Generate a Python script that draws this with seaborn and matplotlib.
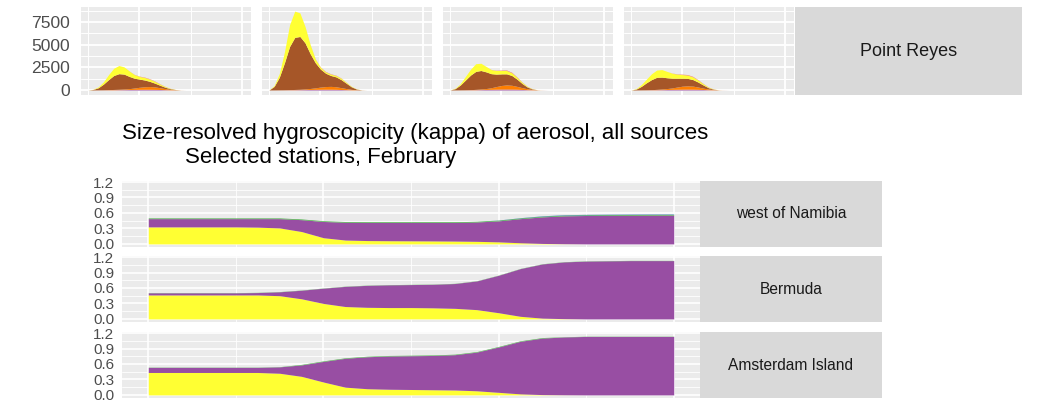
import matplotlib
matplotlib.use("Agg")
import matplotlib.pyplot as plt
from matplotlib.ticker import FixedLocator
import seaborn as sns

# ---------------- Point Reyes size distributions (four columns) ----------------
# cumulative layer tops (number concentration) on a log-diameter axis
t_top = [-0.5, -0.45, -0.4, -0.35, -0.3, -0.25, -0.2, -0.15, -0.1, -0.05, 0.0,
         0.05, 0.1, 0.15, 0.2, 0.25, 0.3, 0.35, 0.4, 0.45, 0.5]

pr_purple = [
    [0, 0, 5, 10, 15, 25, 35, 45, 55, 65, 75, 80, 80, 70, 55, 35, 18, 6, 2, 0, 0],
    [0, 0, 5, 10, 20, 30, 40, 50, 60, 70, 80, 85, 85, 75, 55, 35, 18, 6, 2, 0, 0],
    [0, 0, 5, 10, 20, 30, 45, 60, 75, 90, 100, 105, 100, 85, 60, 35, 18, 6, 2, 0, 0],
    [0, 0, 5, 10, 20, 30, 40, 55, 70, 80, 90, 95, 90, 75, 55, 30, 15, 5, 1, 0, 0],
]
pr_orange = [
    [0, 0, 10, 20, 40, 60, 80, 110, 150, 220, 300, 360, 380, 340, 250, 150, 70, 25, 5, 0, 0],
    [0, 0, 10, 20, 40, 60, 80, 120, 170, 240, 320, 380, 400, 360, 260, 160, 70, 25, 5, 0, 0],
    [0, 0, 10, 20, 40, 70, 110, 160, 250, 380, 500, 560, 520, 400, 260, 140, 60, 20, 4, 0, 0],
    [0, 0, 10, 20, 40, 70, 110, 160, 230, 330, 420, 460, 430, 330, 210, 110, 45, 15, 3, 0, 0],
]
pr_brown = [
    [0, 60, 250, 650, 1150, 1600, 1800, 1750, 1500, 1300, 1200, 1100, 950, 750, 520, 300, 140, 50, 8, 0, 0],
    [0, 400, 1400, 3000, 4800, 5800, 5900, 5200, 4000, 3000, 2300, 1850, 1600, 1450, 1150, 750, 350, 100, 15, 0, 0],
    [0, 150, 550, 1100, 1650, 2050, 2150, 2000, 1800, 1750, 1780, 1780, 1600, 1200, 720, 330, 110, 25, 0, 0, 0],
    [0, 100, 400, 800, 1150, 1400, 1420, 1350, 1300, 1300, 1300, 1280, 1150, 880, 560, 260, 90, 20, 0, 0, 0],
]
pr_yellow = [
    [0, 80, 350, 900, 1700, 2400, 2700, 2550, 2100, 1700, 1500, 1380, 1200, 950, 650, 380, 180, 60, 10, 0, 0],
    [0, 500, 1800, 4200, 7200, 8700, 8500, 7000, 5000, 3400, 2500, 2000, 1750, 1600, 1300, 850, 400, 120, 20, 0, 0],
    [0, 200, 700, 1500, 2300, 2900, 2950, 2600, 2250, 2150, 2150, 2150, 1900, 1400, 850, 400, 130, 30, 0, 0, 0],
    [0, 150, 600, 1200, 1800, 2200, 2250, 2050, 1850, 1750, 1700, 1650, 1450, 1100, 700, 330, 110, 25, 0, 0, 0],
]
pr_red = [
    [0, 0, 0, 0, 0, 0, 0, 0, 10, 20, 30, 40, 40, 35, 25, 15, 5, 0, 0, 0, 0],
    [0, 0, 0, 0, 0, 0, 0, 0, 10, 20, 30, 40, 40, 35, 25, 15, 5, 0, 0, 0, 0],
    [0, 0, 0, 0, 0, 0, 0, 0, 15, 30, 45, 55, 55, 45, 30, 15, 5, 0, 0, 0, 0],
    [0, 0, 0, 0, 0, 0, 0, 0, 15, 30, 45, 55, 55, 45, 30, 15, 5, 0, 0, 0, 0],
]
top_yticks = [0, 2500, 5000, 7500]
top_label = "Point Reyes"

# ---------------- kappa by source, February ----------------
x_kappa = [0, 0.125, 0.25, 0.375, 0.5, 0.625, 0.75, 0.875, 1.0, 1.125, 1.25, 1.375, 1.5,
           1.625, 1.75, 1.875, 2.0, 2.125, 2.25, 2.375, 2.5, 2.625, 2.75, 2.875, 3.0]
stations = ["west of Namibia", "Bermuda", "Amsterdam Island"]

namibia_yellow = [.33, .33, .33, .33, .33, .325, .31, .24, .12, .075, .065, .062, .06,
                  .058, .055, .05, .04, .022, .009, .003, 0, 0, 0, 0, 0]
namibia_purple = [.16, .16, .16, .16, .16, .165, .18, .23, .315, .345, .35, .353, .355,
                  .357, .36, .375, .407, .468, .515, .541, .551, .554, .556, .558, .559]
namibia_green = [.014] * 25
namibia_blue = [0] * 16 + [.003, .005, .007, .008, .008, .008, .008, .008, .008]

bermuda_yellow = [.465, .465, .465, .465, .465, .465, .45, .39, .30, .24, .225, .22, .22,
                  .215, .205, .18, .12, .05, .015, .005, 0, 0, 0, 0, 0]
bermuda_purple = [.041, .041, .041, .041, .041, .046, .076, .166, .296, .391, .426, .441, .446,
                  .456, .481, .556, .726, .926, 1.051, 1.101, 1.121, 1.126, 1.131, 1.131, 1.131]
bermuda_green = [.004] * 25
bermuda_blue = [0] * 25

amsterdam_yellow = [.435, .435, .435, .435, .435, .435, .42, .36, .25, .15, .12, .11, .105,
                    .10, .095, .08, .05, .02, .006, .002, 0, 0, 0, 0, 0]
amsterdam_purple = [.099, .099, .099, .099, .099, .099, .124, .222, .4, .56, .62, .645, .655,
                    .665, .685, .75, .88, 1.02, 1.096, 1.122, 1.134, 1.134, 1.134, 1.134, 1.134]
amsterdam_green = [.004] * 7 + [.01] * 12 + [.004] * 6
amsterdam_blue = [0] * 25

kappa_layers = {
    "west of Namibia": (namibia_yellow, namibia_purple, namibia_green, namibia_blue),
    "Bermuda": (bermuda_yellow, bermuda_purple, bermuda_green, bermuda_blue),
    "Amsterdam Island": (amsterdam_yellow, amsterdam_purple, amsterdam_green, amsterdam_blue),
}
kappa_yticks = [0.0, 0.3, 0.6, 0.9, 1.2]
title_line1 = "Size-resolved hygroscopicity (kappa) of aerosol, all sources"
title_line2 = "Selected stations, February"

# Set1 colours
RED, BLUE, GREEN, PURPLE = "#E41A1C", "#377EB8", "#4DAF4A", "#984EA3"
ORANGE, YELLOW, BROWN = "#FF7F00", "#FFFF33", "#A65628"

sns.set_theme(style="darkgrid")
plt.rcParams["font.family"] = ["Liberation Sans", "DejaVu Sans"]

W, H = 1037, 407
fig = plt.figure(figsize=(W / 100, H / 100), dpi=100)
fig.patch.set_facecolor("white")


def box(x0, y0, x1, y1):
    return fig.add_axes([x0 / W, 1 - y1 / H, (x1 - x0) / W, (y1 - y0) / H])


def gg_panel(ax, xmaj, xmin, ymaj, ymin, lw_major, lw_minor):
    ax.set_facecolor("#EBEBEB")
    for s in ax.spines.values():
        s.set_visible(False)
    ax.xaxis.set_major_locator(FixedLocator(xmaj))
    ax.xaxis.set_minor_locator(FixedLocator(xmin))
    ax.yaxis.set_major_locator(FixedLocator(ymaj))
    ax.yaxis.set_minor_locator(FixedLocator(ymin))
    ax.grid(True, which="major", color="white", linewidth=lw_major)
    ax.grid(True, which="minor", color="white", linewidth=lw_minor)
    ax.set_axisbelow(True)
    ax.tick_params(axis="x", which="both", length=0, labelbottom=False)
    ax.tick_params(axis="y", which="minor", length=0)


def strip(x0, y0, x1, y1, label, size):
    sa = box(x0, y0, x1, y1)
    sa.set_facecolor("#D9D9D9")
    for s in sa.spines.values():
        s.set_visible(False)
    sa.set_xticks([])
    sa.set_yticks([])
    sa.grid(False)
    sa.text(0.5, 0.5, label, ha="center", va="center", fontsize=size,
            color="#1A1A1A", transform=sa.transAxes)


# ---- top row: Point Reyes number distributions ----
top_lefts = [81, 262, 443, 624]
for i, x0 in enumerate(top_lefts):
    ax = box(x0, 7, x0 + 170, 95)
    gg_panel(ax, [0, 1], [-0.5, 0.5], top_yticks, [1250, 3750, 6250, 8750], 1.3, 0.7)
    ax.set_xlim(-0.568, 1.083)
    ax.set_ylim(-551, 9151)
    base = [0] * len(t_top)
    red_top = [y + r for y, r in zip(pr_yellow[i], pr_red[i])]
    for top, col in [(pr_purple[i], PURPLE), (pr_orange[i], ORANGE),
                     (pr_brown[i], BROWN), (pr_yellow[i], YELLOW), (red_top, "#F07A6A")]:
        ax.fill_between(t_top, base, top, color=col, linewidth=0)
        base = top
    if i == 0:
        ax.set_yticklabels([str(v) for v in top_yticks])
        ax.tick_params(axis="y", which="major", length=4, width=1.1, color="#333333",
                       labelcolor="#4D4D4D", labelsize=12.6, pad=4)
    else:
        ax.tick_params(axis="y", which="major", length=0, labelleft=False)
strip(795, 7, 1022, 95, top_label, 13)

# ---- title ----
fig.text(122 / W, 1 - 134 / H, title_line1, ha="left", va="center", fontsize=16, color="black")
fig.text(185 / W, 1 - 157 / H, title_line2, ha="left", va="center", fontsize=16, color="black")

# ---- facets: kappa contribution by source ----
facet_tops = [181, 256, 332]
for name, y0 in zip(stations, facet_tops):
    ax = box(122, y0, 700, y0 + 66)
    gg_panel(ax, [0, 1, 2, 3], [0.5, 1.5, 2.5], kappa_yticks,
             [0.15, 0.45, 0.75, 1.05], 1.2, 0.6)
    ax.set_xlim(-0.15, 3.15)
    ax.set_ylim(-0.06, 1.22)
    yel, pur, grn, blu = kappa_layers[name]
    ax.stackplot(x_kappa, yel, pur, grn, blu, colors=[YELLOW, PURPLE, GREEN, BLUE],
                 linewidth=0)
    ax.set_yticklabels([f"{v:.1f}" for v in kappa_yticks])
    ax.tick_params(axis="y", which="major", length=3.5, width=1.1, color="#333333",
                   labelcolor="#4D4D4D", labelsize=11, pad=2)
    strip(700, y0, 882, y0 + 66, name, 11.2)

fig.savefig("out.png", dpi=100, facecolor="white")
